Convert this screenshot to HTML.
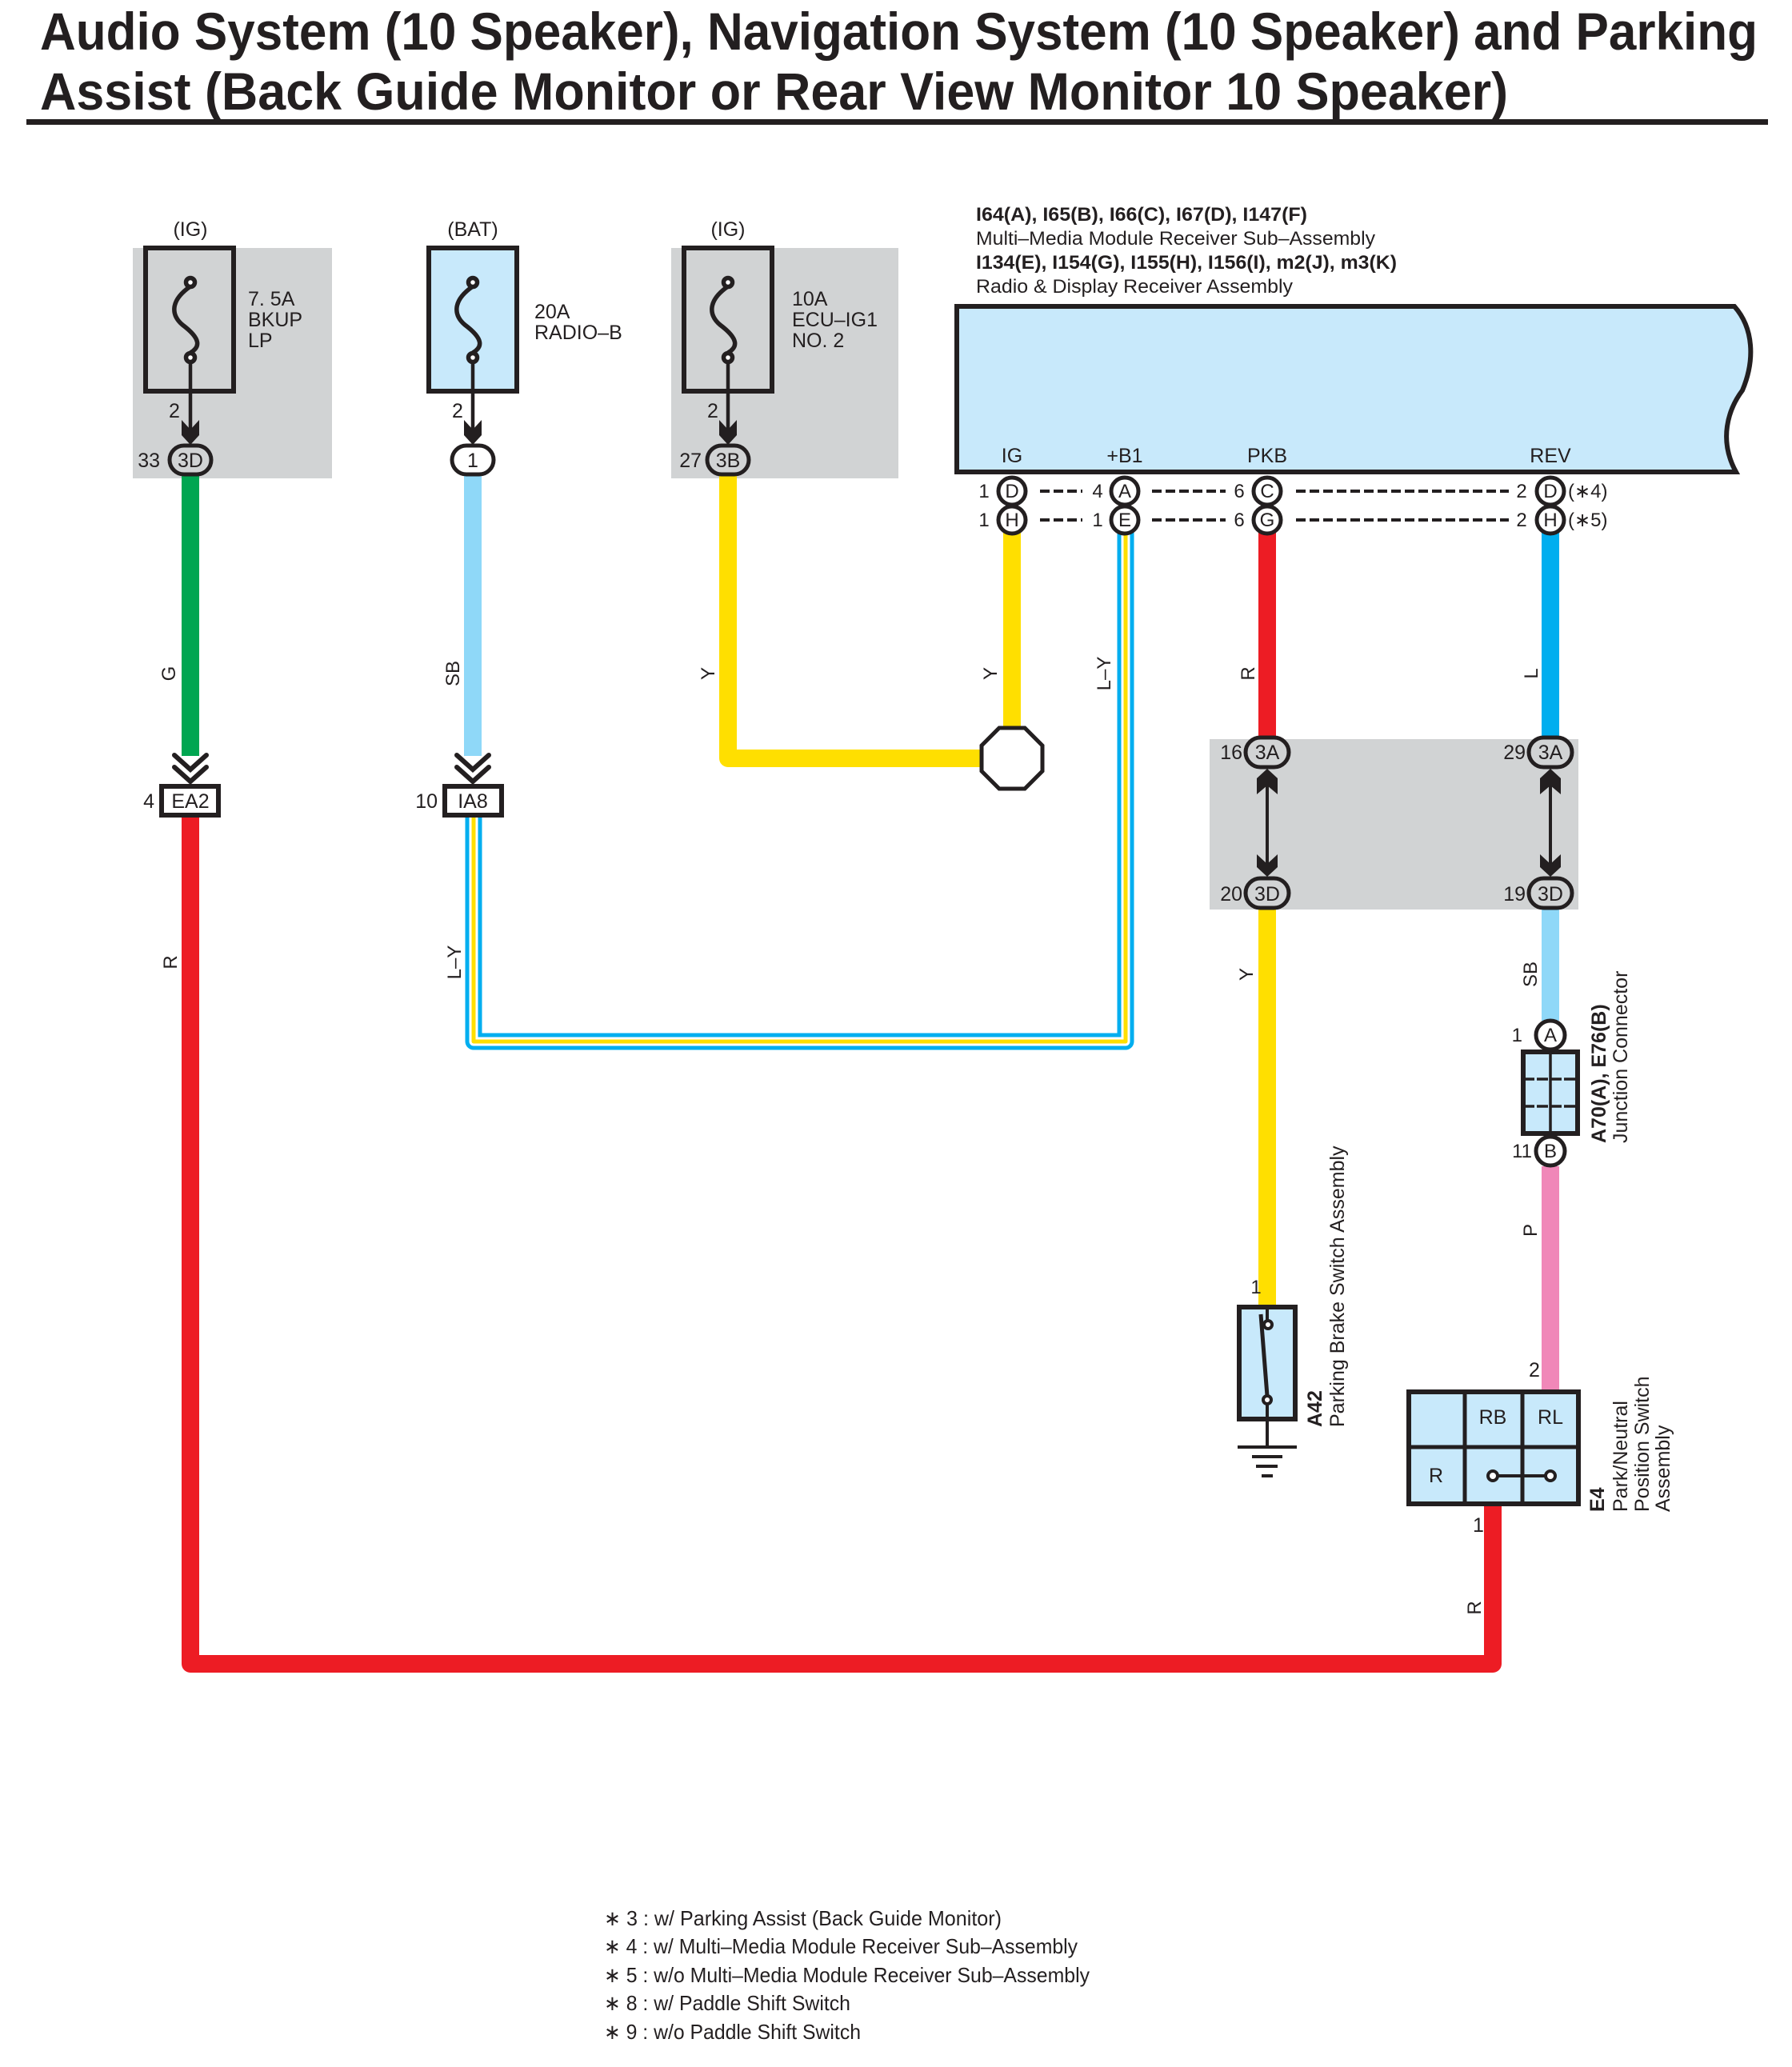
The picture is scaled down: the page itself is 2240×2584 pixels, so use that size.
<!DOCTYPE html>
<html><head><meta charset="utf-8"><style>
html,body{margin:0;padding:0;background:#fff;}
svg{display:block;}
text{font-family:"Liberation Sans",Arial,sans-serif;fill:#231f20;}
</style></head><body>
<svg width="2240" height="2584" viewBox="0 0 2240 2584" xmlns="http://www.w3.org/2000/svg">
<!-- Title -->
<text x="50" y="62" font-size="66" font-weight="bold" textLength="2147" lengthAdjust="spacingAndGlyphs">Audio System (10 Speaker), Navigation System (10 Speaker) and Parking</text>
<text x="50" y="137" font-size="66" font-weight="bold" textLength="1835" lengthAdjust="spacingAndGlyphs">Assist (Back Guide Monitor or Rear View Monitor 10 Speaker)</text>
<rect x="33" y="149" width="2177" height="7" fill="#231f20"/>

<!-- gray boxes -->
<rect x="166" y="310" width="249" height="288" fill="#d1d3d4"/>
<rect x="839" y="310" width="284" height="288" fill="#d1d3d4"/>
<rect x="1512" y="924" width="461" height="213" fill="#d1d3d4"/>

<!-- wires -->
<g fill="none" stroke-linejoin="round" stroke-linecap="butt">
<path d="M238 595 V945" stroke="#00a651" stroke-width="22"/>
<path d="M591 595 V945" stroke="#8fd8f8" stroke-width="22"/>
<path d="M910 595 V948 H1230" stroke="#ffdf00" stroke-width="22"/>
<path d="M1265 665 V912" stroke="#ffdf00" stroke-width="22"/>
<path d="M238 1021 V2080 H1866 V1883" stroke="#ed1c24" stroke-width="22"/>
<path d="M1584 665 V925" stroke="#ed1c24" stroke-width="22"/>
<path d="M1938 665 V925" stroke="#00aeef" stroke-width="22"/>
<path d="M1584 1135 V1631" stroke="#ffdf00" stroke-width="22"/>
<path d="M1938 1135 V1276" stroke="#8fd8f8" stroke-width="22"/>
<path d="M1938 1458 V1737" stroke="#f087b8" stroke-width="22"/>
<path d="M592 1021 V1302 H1407 V665" stroke="#00aeef" stroke-width="21"/>
<path d="M592 1021 V1302 H1407 V665" stroke="#ffffff" stroke-width="11"/>
<path d="M592 1021 V1302 H1407 V665" stroke="#ffdf00" stroke-width="5"/>
</g>

<!-- Fuses -->
<g stroke="#231f20" stroke-width="6" fill="none">
<rect x="182" y="310" width="110" height="179" fill="none"/>
<rect x="536" y="310" width="110" height="179" fill="#c8e9fb"/>
<rect x="855" y="310" width="110" height="179" fill="none"/>
</g>
<g stroke="#231f20" stroke-width="5.5" fill="none">
<path d="M238 358 C212 376 214 394 228 406 C252 424 250 434 238 441"/>
<circle cx="238" cy="353" r="5.5" fill="#fff"/><circle cx="238" cy="447" r="5.5" fill="#fff"/>
<line x1="238" y1="453" x2="238" y2="540" stroke-width="4.5"/>
<path d="M591 358 C565 376 567 394 581 406 C605 424 603 434 591 441"/>
<circle cx="591" cy="353" r="5.5" fill="#fff"/><circle cx="591" cy="447" r="5.5" fill="#fff"/>
<line x1="591" y1="453" x2="591" y2="540" stroke-width="4.5"/>
<path d="M910 358 C884 376 886 394 900 406 C924 424 922 434 910 441"/>
<circle cx="910" cy="353" r="5.5" fill="#fff"/><circle cx="910" cy="447" r="5.5" fill="#fff"/>
<line x1="910" y1="453" x2="910" y2="540" stroke-width="4.5"/>
</g>
<g fill="#231f20">
<polygon points="227,525 238,537 249,525 249,544 238,556 227,544"/>
<polygon points="580,525 591,537 602,525 602,544 591,556 580,544"/>
<polygon points="899,525 910,537 921,525 921,544 910,556 899,544"/>
</g>
<g font-size="25">
<text x="238" y="295" text-anchor="middle">(IG)</text>
<text x="591" y="295" text-anchor="middle">(BAT)</text>
<text x="910" y="295" text-anchor="middle">(IG)</text>
<text x="310" y="382">7. 5A</text><text x="310" y="408">BKUP</text><text x="310" y="434">LP</text>
<text x="668" y="398">20A</text><text x="668" y="424">RADIO–B</text>
<text x="990" y="382">10A</text><text x="990" y="408">ECU–IG1</text><text x="990" y="434">NO. 2</text>
<text x="218" y="522" text-anchor="middle">2</text>
<text x="572" y="522" text-anchor="middle">2</text>
<text x="891" y="522" text-anchor="middle">2</text>
<text x="200" y="584" text-anchor="end">33</text>
<text x="877" y="584" text-anchor="end">27</text>
</g>
<g stroke="#231f20" stroke-width="5" fill="#d1d3d4">
<rect x="212" y="557" width="52" height="36" rx="18"/>
<rect x="565" y="557" width="52" height="36" rx="18" fill="#fff"/>
<rect x="884" y="557" width="52" height="36" rx="18"/>
<rect x="1557" y="922" width="54" height="37" rx="18.5"/>
<rect x="1911" y="922" width="54" height="37" rx="18.5"/>
<rect x="1557" y="1098" width="54" height="37" rx="18.5"/>
<rect x="1911" y="1098" width="54" height="37" rx="18.5"/>
</g>
<g font-size="25" text-anchor="middle">
<text x="238" y="584">3D</text><text x="591" y="584">1</text><text x="910" y="584">3B</text>
<text x="1584" y="949">3A</text><text x="1938" y="949">3A</text>
<text x="1584" y="1126">3D</text><text x="1938" y="1126">3D</text>
</g>
<g font-size="25" text-anchor="end">
<text x="1553" y="949">16</text><text x="1907" y="949">29</text>
<text x="1553" y="1126">20</text><text x="1907" y="1126">19</text>
</g>
<g stroke="#231f20" stroke-width="4">
<line x1="1584" y1="970" x2="1584" y2="1090"/><line x1="1938" y1="970" x2="1938" y2="1090"/>
</g>
<g fill="#231f20">
<polygon points="1584,961 1597,973 1597,993 1584,982 1571,993 1571,973"/>
<polygon points="1938,961 1951,973 1951,993 1938,982 1925,993 1925,973"/>
<polygon points="1584,1096 1597,1084 1597,1068 1584,1080 1571,1068 1571,1084"/>
<polygon points="1938,1096 1951,1084 1951,1068 1938,1080 1925,1068 1925,1084"/>
</g>

<g stroke="#231f20" stroke-width="6" fill="none" stroke-linecap="round">
<polyline points="218,944 238,962 258,944"/><polyline points="218,959 238,977 258,959"/>
<polyline points="571,944 591,962 611,944"/><polyline points="571,959 591,977 611,959"/>
<rect x="202" y="983" width="71" height="36" fill="#fff"/>
<rect x="556" y="983" width="71" height="36" fill="#fff"/>
</g>
<g font-size="25">
<text x="238" y="1010" text-anchor="middle">EA2</text>
<text x="591" y="1010" text-anchor="middle">IA8</text>
<text x="193" y="1010" text-anchor="end">4</text>
<text x="547" y="1010" text-anchor="end">10</text>
</g>

<path d="M1196 383 H2168 C2192 410 2194 450 2178 488 C2160 512 2148 550 2170 590 H1196 Z" fill="#c8e9fb" stroke="#231f20" stroke-width="6"/>
<g font-size="24">
<text x="1220" y="276" font-weight="bold" textLength="414" lengthAdjust="spacingAndGlyphs">I64(A), I65(B), I66(C), I67(D), I147(F)</text>
<text x="1220" y="306" textLength="499" lengthAdjust="spacingAndGlyphs">Multi–Media Module Receiver Sub–Assembly</text>
<text x="1220" y="336" font-weight="bold" textLength="526" lengthAdjust="spacingAndGlyphs">I134(E), I154(G), I155(H), I156(I), m2(J), m3(K)</text>
<text x="1220" y="366" textLength="396" lengthAdjust="spacingAndGlyphs">Radio &amp; Display Receiver Assembly</text>
</g>
<g font-size="25" text-anchor="middle">
<text x="1265" y="578">IG</text><text x="1406" y="578">+B1</text><text x="1584" y="578">PKB</text><text x="1938" y="578">REV</text>
</g>
<g stroke="#231f20" stroke-width="5" fill="#fff">
<circle cx="1265" cy="614" r="17"/><circle cx="1406" cy="614" r="17"/><circle cx="1584" cy="614" r="17"/><circle cx="1938" cy="614" r="17"/>
<circle cx="1265" cy="650" r="17"/><circle cx="1406" cy="650" r="17"/><circle cx="1584" cy="650" r="17"/><circle cx="1938" cy="650" r="17"/>
</g>
<g stroke="#231f20" stroke-width="4" stroke-dasharray="12,5">
<line x1="1300" y1="614" x2="1353" y2="614"/><line x1="1440" y1="614" x2="1532" y2="614"/><line x1="1620" y1="614" x2="1886" y2="614"/>
<line x1="1300" y1="650" x2="1353" y2="650"/><line x1="1440" y1="650" x2="1532" y2="650"/><line x1="1620" y1="650" x2="1886" y2="650"/>
</g>
<g font-size="24" text-anchor="middle">
<text x="1265" y="622">D</text><text x="1406" y="622">A</text><text x="1584" y="622">C</text><text x="1938" y="622">D</text>
<text x="1265" y="658">H</text><text x="1406" y="658">E</text><text x="1584" y="658">G</text><text x="1938" y="658">H</text>
<text x="1230" y="622">1</text><text x="1372" y="622">4</text><text x="1549" y="622">6</text><text x="1902" y="622">2</text>
<text x="1230" y="658">1</text><text x="1372" y="658">1</text><text x="1549" y="658">6</text><text x="1902" y="658">2</text>
</g>
<g font-size="24"><text x="1960" y="622">(∗4)</text><text x="1960" y="658">(∗5)</text></g>

<polygon points="1249,910 1281,910 1303,932 1303,964 1281,986 1249,986 1227,964 1227,932" fill="#fff" stroke="#231f20" stroke-width="5"/>

<g font-size="24" text-anchor="middle">
<text transform="translate(219,842) rotate(-90)">G</text>
<text transform="translate(574,842) rotate(-90)">SB</text>
<text transform="translate(893,842) rotate(-90)">Y</text>
<text transform="translate(1246,842) rotate(-90)">Y</text>
<text transform="translate(1388,842) rotate(-90)">L–Y</text>
<text transform="translate(1568,842) rotate(-90)">R</text>
<text transform="translate(1922,842) rotate(-90)">L</text>
<text transform="translate(221,1203) rotate(-90)">R</text>
<text transform="translate(576,1203) rotate(-90)">L–Y</text>
<text transform="translate(1566,1218) rotate(-90)">Y</text>
<text transform="translate(1921,1218) rotate(-90)">SB</text>
<text transform="translate(1921,1538) rotate(-90)">P</text>
<text transform="translate(1851,2010) rotate(-90)">R</text>
</g>

<rect x="1904" y="1315" width="68" height="102" fill="#c8e9fb" stroke="#231f20" stroke-width="6"/>
<g stroke="#231f20" stroke-width="3.5">
<line x1="1938" y1="1315" x2="1938" y2="1417"/>
<line x1="1904" y1="1349" x2="1972" y2="1349" stroke-dasharray="14,3"/>
<line x1="1904" y1="1383" x2="1972" y2="1383" stroke-dasharray="14,3"/>
</g>
<g stroke="#231f20" stroke-width="5" fill="#fff">
<circle cx="1938" cy="1294" r="18"/><circle cx="1938" cy="1439" r="18"/>
</g>
<g font-size="24" text-anchor="middle">
<text x="1938" y="1302">A</text><text x="1938" y="1447">B</text>
<text x="1903" y="1302" text-anchor="end">1</text><text x="1915" y="1447" text-anchor="end">11</text>
</g>
<text transform="translate(2007,1429) rotate(-90)" font-size="25" font-weight="bold">A70(A), E76(B)</text>
<text transform="translate(2034,1429) rotate(-90)" font-size="25">Junction Connector</text>

<rect x="1549" y="1634" width="70" height="140" fill="#c8e9fb" stroke="#231f20" stroke-width="6"/>
<g stroke="#231f20" stroke-width="4" fill="none">
<line x1="1584" y1="1634" x2="1584" y2="1650"/>
<line x1="1576" y1="1643" x2="1584" y2="1745" stroke-width="5"/>
<circle cx="1585" cy="1656" r="5" fill="#fff"/>
<circle cx="1584" cy="1750" r="5" fill="#fff"/>
<line x1="1584" y1="1755" x2="1584" y2="1809"/>
<line x1="1547" y1="1809" x2="1621" y2="1809"/>
<line x1="1565" y1="1821" x2="1603" y2="1821"/>
<line x1="1570" y1="1833" x2="1597" y2="1833"/>
<line x1="1577" y1="1845" x2="1591" y2="1845"/>
</g>
<text x="1570" y="1617" font-size="24" text-anchor="middle">1</text>
<text transform="translate(1652,1784) rotate(-90)" font-size="25" font-weight="bold">A42</text>
<text transform="translate(1680,1784) rotate(-90)" font-size="25">Parking Brake Switch Assembly</text>

<rect x="1761" y="1740" width="212" height="140" fill="#c8e9fb" stroke="#231f20" stroke-width="6"/>
<g stroke="#231f20" stroke-width="5">
<line x1="1831" y1="1740" x2="1831" y2="1880"/>
<line x1="1903" y1="1740" x2="1903" y2="1880"/>
<line x1="1761" y1="1809" x2="1973" y2="1809"/>
<line x1="1866" y1="1845" x2="1938" y2="1845" stroke-width="4"/>
</g>
<g stroke="#231f20" stroke-width="4" fill="#fff">
<circle cx="1866" cy="1845" r="6"/><circle cx="1938" cy="1845" r="6"/>
</g>
<g font-size="25" text-anchor="middle">
<text x="1866" y="1780">RB</text><text x="1938" y="1780">RL</text><text x="1795" y="1853">R</text>
<text x="1918" y="1721">2</text><text x="1848" y="1915">1</text>
</g>
<text transform="translate(2005,1890) rotate(-90)" font-size="25" font-weight="bold">E4</text>
<text transform="translate(2034,1890) rotate(-90)" font-size="25">Park/Neutral</text>
<text transform="translate(2061,1890) rotate(-90)" font-size="25">Position Switch</text>
<text transform="translate(2087,1890) rotate(-90)" font-size="25">Assembly</text>

<g font-size="26">
<text x="755" y="2407" textLength="497" lengthAdjust="spacingAndGlyphs">∗ 3 : w/ Parking Assist (Back Guide Monitor)</text>
<text x="755" y="2442" textLength="592" lengthAdjust="spacingAndGlyphs">∗ 4 : w/ Multi–Media Module Receiver Sub–Assembly</text>
<text x="755" y="2478" textLength="607" lengthAdjust="spacingAndGlyphs">∗ 5 : w/o Multi–Media Module Receiver Sub–Assembly</text>
<text x="755" y="2513" textLength="308" lengthAdjust="spacingAndGlyphs">∗ 8 : w/ Paddle Shift Switch</text>
<text x="755" y="2549" textLength="321" lengthAdjust="spacingAndGlyphs">∗ 9 : w/o Paddle Shift Switch</text>
</g>
</svg>
</body></html>
